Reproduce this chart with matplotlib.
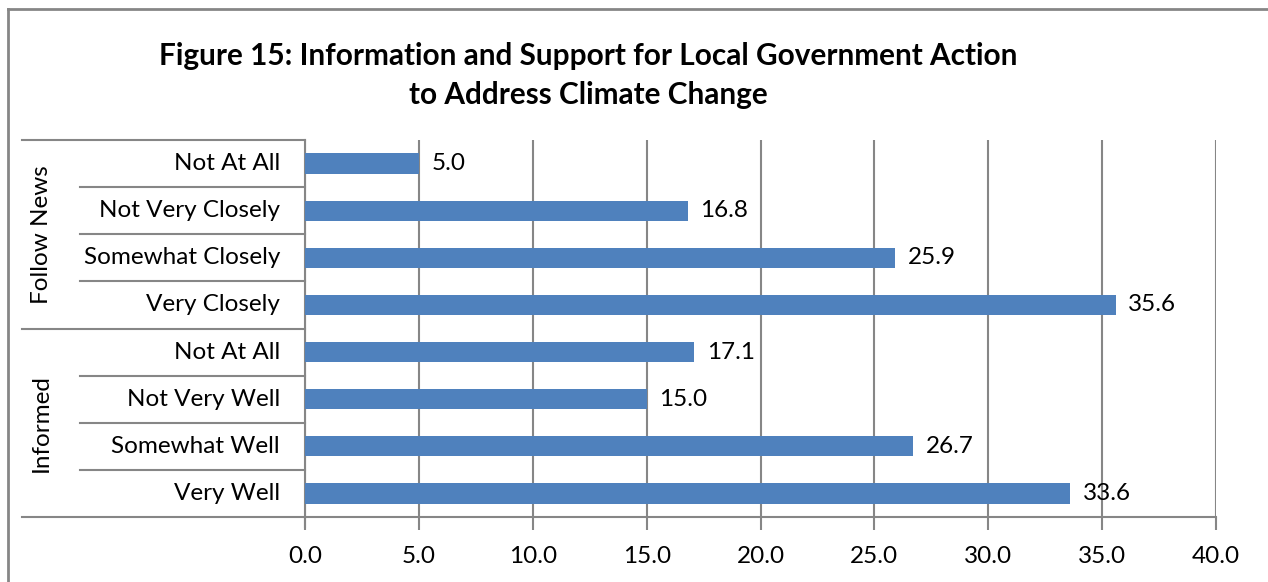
import matplotlib.pyplot as plt
import matplotlib.transforms as mtransforms
from matplotlib.lines import Line2D

# data, top to bottom as shown
groups = ['Follow News', 'Informed']
categories = ['Not At All', 'Not Very Closely', 'Somewhat Closely', 'Very Closely',
              'Not At All', 'Not Very Well', 'Somewhat Well', 'Very Well']
values = [5.0, 16.8, 25.9, 35.6, 17.1, 15.0, 26.7, 33.6]
xticks = [0, 5, 10, 15, 20, 25, 30, 35, 40]

plt.rcParams['font.family'] = ['Lato', 'DejaVu Sans']

W, H = 1268, 582
fig = plt.figure(figsize=(W / 100, H / 100), dpi=100)

grey = '#868686'
fs = 17.5

# chart border: only top and left are inside the picture
fig.lines.append(Line2D([8 / W, 1.0], [1 - 9 / H, 1 - 9 / H], transform=fig.transFigure,
                        color=grey, linewidth=2))
fig.lines.append(Line2D([8 / W, 8 / W], [0, 1 - 9 / H], transform=fig.transFigure,
                        color=grey, linewidth=2))

fig.text(588 / W, 1 - 56 / H, 'Figure 15: Information and Support for Local Government Action',
         ha='center', va='center', fontsize=21.4, fontweight='bold')
fig.text(588 / W, 1 - 95 / H, 'to Address Climate Change',
         ha='center', va='center', fontsize=21.4, fontweight='bold')

left, right, top, bottom = 305, 1216, 140, 517
ax = fig.add_axes([left / W, 1 - bottom / H, (right - left) / W, (bottom - top) / H])

n = len(values)
ypos = [i + 0.5 for i in range(n)]
ax.barh(ypos, values, height=0.43, color='#4F81BD', zorder=3)
for y, v in zip(ypos, values):
    ax.text(v + 0.55, y, f'{v:.1f}', va='center', ha='left', fontsize=fs, zorder=4)

ax.set_ylim(n, 0)
ax.set_xlim(0, 40)
ax.set_xticks(xticks)
ax.set_xticklabels([f'{t:.1f}' for t in xticks], fontsize=fs)
ax.set_yticks([])
for s in ['top', 'right', 'bottom']:
    ax.spines[s].set_visible(False)
ax.spines['left'].set_color(grey)
ax.spines['left'].set_linewidth(1.5)
ax.xaxis.grid(True, color=grey, linewidth=1.5, zorder=0)
ax.tick_params(axis='x', length=9, width=1.5, color=grey, pad=12)

# category axis table
trans = mtransforms.blended_transform_factory(ax.transAxes, ax.transData)
outer_x = (22 - left) / (right - left)
inner_x = (80 - left) / (right - left)
for k in range(n + 1):
    x0 = outer_x if k % 4 == 0 else inner_x
    ax.plot([x0, 1.0 if k == n else 0], [k, k], transform=trans, color=grey,
            linewidth=1.5, clip_on=False, zorder=2)
ax.plot([0, 0], [n, n + 0.22], transform=trans, color=grey, linewidth=1.5, clip_on=False)

for y, lab in zip(ypos, categories):
    ax.text((280 - left) / (right - left), y, lab, transform=trans,
            ha='right', va='center', fontsize=fs)
for g, lab in enumerate(groups):
    ax.text((41 - left) / (right - left), g * 4 + 2, lab, transform=trans,
            ha='center', va='center', rotation=90, fontsize=fs)

fig.savefig('out.png', dpi=100)
